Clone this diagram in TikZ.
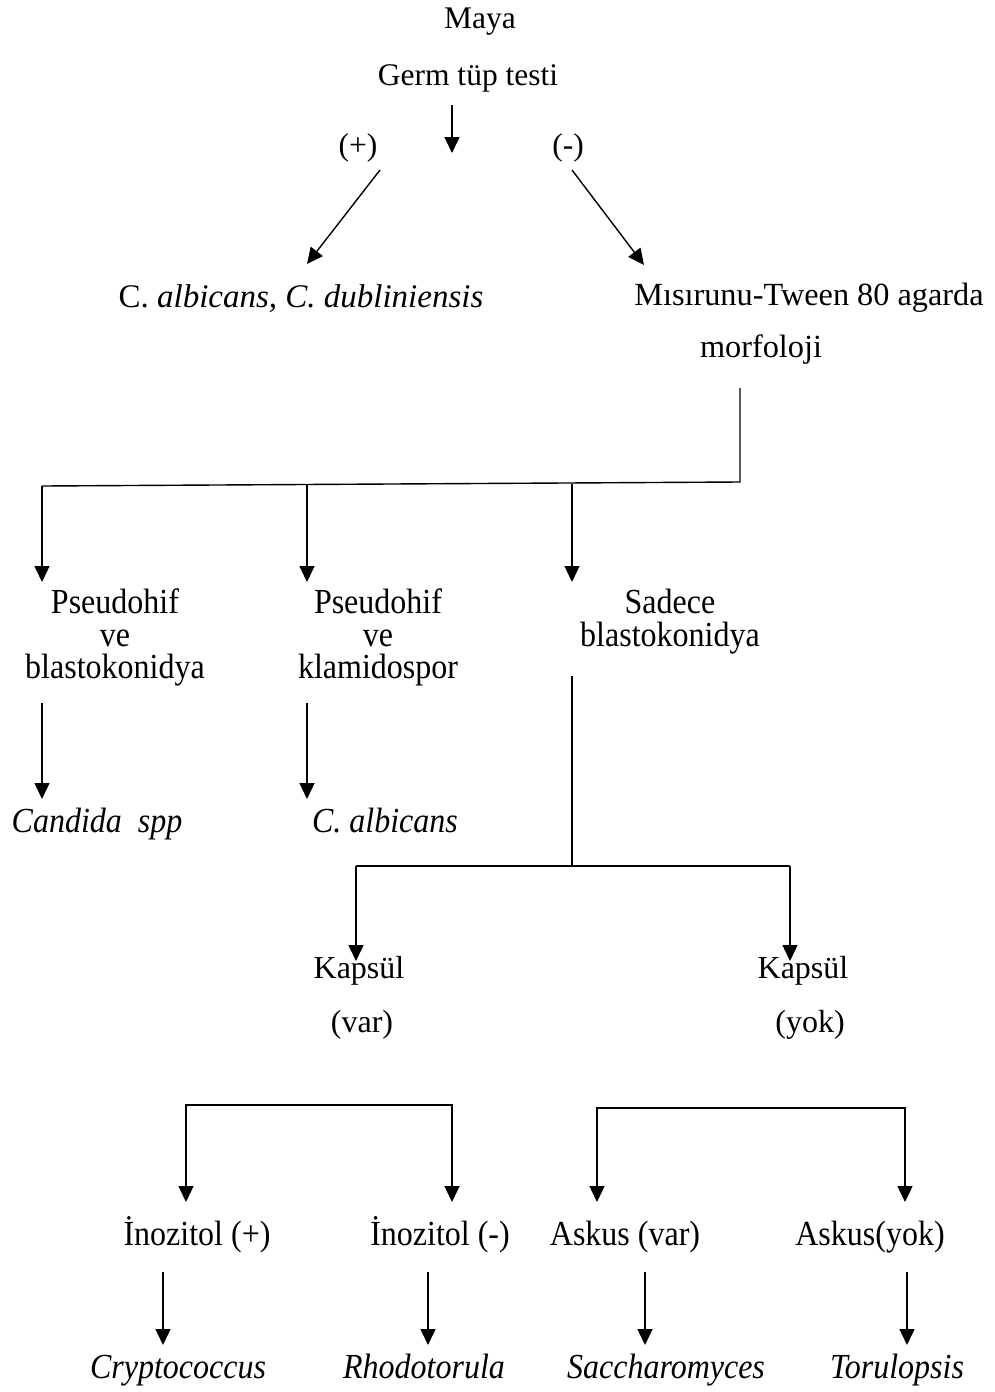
\documentclass[tikz,border=0pt]{standalone}
\usepackage{graphicx}
\usepackage{fontspec}
\setmainfont{Liberation Serif}
\usetikzlibrary{arrows.meta}
\newcommand\vstr[1]{\scalebox{1}[1.1]{#1}}
\begin{document}
\begin{tikzpicture}[x=1pt,y=-1pt,
  txt/.style={inner sep=0pt, font=\fontsize{31.5}{33}\selectfont, anchor=base},
  ltxt/.style={inner sep=0pt, font=\fontsize{32}{33}\selectfont, anchor=base},
  itxt/.style={inner sep=0pt, font=\fontsize{32}{33}\selectfont\itshape, anchor=base},
  mtxt/.style={inner sep=0pt, font=\fontsize{32}{32.5}\selectfont, align=center, anchor=north},
  arr/.style={line width=1.4pt, -{Triangle[length=16pt,width=15pt]}},
  barr/.style={line width=1.4pt, {Triangle[length=16pt,width=15pt]}-{Triangle[length=16pt,width=15pt]}},
  ln/.style={line width=1.4pt}]
\useasboundingbox[fill=white] (0,0) rectangle (995,1392);

% top
\node[txt] (maya) at (480,28) {Maya};
\node[txt] (germ) at (468,85) {Germ tüp testi};
\node[txt] (pos) at (358,155) {(+)};
\node[txt] (neg) at (568,155) {(-)};
\node[txt, font=\fontsize{33}{34}\selectfont] (alb) at (301,307) {C. \textit{albicans, C. dubliniensis}};
\node[txt, font=\fontsize{32.3}{34}\selectfont] (mis) at (809,305) {Mısırunu-Tween 80 agarda};
\node[txt, font=\fontsize{32.3}{34}\selectfont] (morf) at (761,357) {morfoloji};

\coordinate (g1) at (452,105); \coordinate (g2) at (452,153);
\draw[arr] (g1) -- (g2);
\coordinate (p1) at (380,170); \coordinate (p2) at (307,264);
\draw[arr] (p1) -- (p2);
\coordinate (n1) at (572,170); \coordinate (n2) at (644,265);
\draw[arr] (n1) -- (n2);

% morphology split
\coordinate (m1) at (740,388); \coordinate (m2) at (740,482);
\coordinate (j1) at (42,486); \coordinate (j2) at (307,485); \coordinate (j3) at (572,484);
\draw[ln] (m1) -- (m2) -- (j1);
\coordinate (a1) at (42,582); \coordinate (a2) at (307,582); \coordinate (a3) at (572,582);
\draw[arr] (j1) -- (a1);
\draw[arr] (j2) -- (a2);
\draw[arr] (j3) -- (a3);

\node[mtxt] (pb) at (115,589) {\vstr{Pseudohif}\\\vstr{ve}\\\vstr{blastokonidya}};
\node[mtxt] (pk) at (378,589) {\vstr{Pseudohif}\\\vstr{ve}\\\vstr{klamidospor}};
\node[mtxt] (sb) at (670,589) {\vstr{Sadece}\\\vstr{blastokonidya}};

\coordinate (b1) at (42,703); \coordinate (b2) at (42,799);
\draw[arr] (b1) -- (b2);
\coordinate (c1) at (307,703); \coordinate (c2) at (307,799);
\draw[arr] (c1) -- (c2);

\node[itxt] (cand) at (97,832) {\vstr{Candida\ \ spp}};
\node[itxt] (calb) at (385,832) {\vstr{C. albicans}};

% capsule split
\coordinate (s1) at (572,676); \coordinate (s2) at (572,866);
\coordinate (k1) at (356,866); \coordinate (k2) at (790,866);
\draw[ln] (s1) -- (s2);
\draw[ln] (k1) -- (k2);
\coordinate (k1b) at (356,961); \coordinate (k2b) at (790,961);
\draw[arr] (k1) -- (k1b);
\draw[arr] (k2) -- (k2b);

\node[ltxt] (kv) at (359,978) {Kapsül};
\node[ltxt] (var) at (362,1032) {(var)};
\node[ltxt] (ky) at (803,978) {Kapsül};
\node[ltxt] (yok) at (810,1032) {(yok)};

% brackets
\coordinate (q1) at (186,1202); \coordinate (q2) at (186,1105);
\coordinate (q3) at (452,1105); \coordinate (q4) at (452,1202);
\draw[barr] (q1) -- (q2) -- (q3) -- (q4);
\coordinate (r1) at (597,1202); \coordinate (r2) at (597,1108);
\coordinate (r3) at (905,1108); \coordinate (r4) at (905,1202);
\draw[barr] (r1) -- (r2) -- (r3) -- (r4);

\node[ltxt] (ip) at (197,1245) {\vstr{İnozitol (+)}};
\node[ltxt] (in) at (440,1245) {\vstr{İnozitol (-)}};
\node[ltxt] (av) at (625,1245) {\vstr{Askus (var)}};
\node[ltxt] (ay) at (870,1245) {\vstr{Askus(yok)}};

\coordinate (t1) at (163,1272); \coordinate (t1b) at (163,1345);
\coordinate (t2) at (428,1272); \coordinate (t2b) at (428,1345);
\coordinate (t3) at (645,1272); \coordinate (t3b) at (645,1345);
\coordinate (t4) at (907,1272); \coordinate (t4b) at (907,1345);
\draw[arr] (t1) -- (t1b);
\draw[arr] (t2) -- (t2b);
\draw[arr] (t3) -- (t3b);
\draw[arr] (t4) -- (t4b);

\node[itxt] (cry) at (178,1378) {\vstr{Cryptococcus}};
\node[itxt] (rho) at (424,1378) {\vstr{Rhodotorula}};
\node[itxt] (sac) at (666,1378) {\vstr{Saccharomyces}};
\node[itxt] (tor) at (897,1378) {\vstr{Torulopsis}};
\end{tikzpicture}
\end{document}
